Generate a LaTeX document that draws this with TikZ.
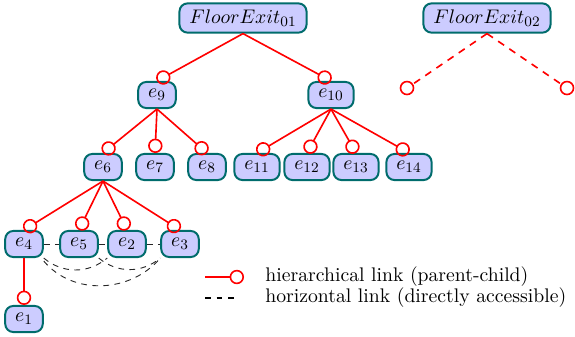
\documentclass[tikz,border=0pt]{standalone}
\usetikzlibrary{arrows.meta}
\begin{document}
\begin{tikzpicture}[x=0.5556pt,y=-0.5556pt,font=\fontsize{10.95}{13}\selectfont,
  nd/.style={draw=teal!85!black,fill=blue!20,rounded corners=4.5pt,line width=1.1pt,inner xsep=5.5pt,inner ysep=3.5pt,minimum height=14.5pt},
  hier/.style={red,line width=0.9pt,-{Circle[open,length=8pt,line width=0.9pt]}},
  hdash/.style={red,line width=0.9pt,dash pattern=on 4pt off 3.5pt},
  horiz/.style={black!85,line width=0.5pt,dash pattern=on 3.2pt off 3pt}]
\useasboundingbox (0,0) rectangle (575,336);
\node[nd] (f1) at (243,18) {$FloorExit_{01}$};
\node[nd] (f2) at (487,18) {$FloorExit_{02}$};
\node[nd] (e9) at (157,95) {$e_9$};
\node[nd] (e10) at (331,95) {$e_{10}$};
\node[nd] (e6) at (103,167) {$e_6$};
\node[nd] (e7) at (155,167) {$e_7$};
\node[nd] (e8) at (207,167) {$e_8$};
\node[nd] (e11) at (257,167) {$e_{11}$};
\node[nd] (e12) at (307,167) {$e_{12}$};
\node[nd] (e13) at (356,167) {$e_{13}$};
\node[nd] (e14) at (409,167) {$e_{14}$};
\node[nd] (e4) at (24,244) {$e_4$};
\node[nd] (e5) at (79,244) {$e_5$};
\node[nd] (e2) at (127,244) {$e_2$};
\node[nd] (e3) at (180,244) {$e_3$};
\node[nd] (e1) at (24,319) {$e_1$};
\coordinate (g1) at (413,84);
\coordinate (g2) at (561,84);
\coordinate (l1a) at (205,277);
\coordinate (l1b) at (244,277);
\coordinate (l2a) at (205,298);
\coordinate (l2b) at (234,298);
% hierarchical
\foreach \p/\c in {f1/e9,f1/e10,e9/e6,e9/e7,e9/e8,e10/e11,e10/e12,e10/e13,e10/e14,e6/e4,e6/e5,e6/e2,e6/e3,e4/e1}
  \draw[hier] (\p.south) -- (\c.north);
\draw[hdash] (f2.south) -- (g1);
\draw[hdash] (f2.south) -- (g2);
\draw[red,line width=0.9pt] (407,88) circle[radius=3.6pt];
\draw[red,line width=0.9pt] (567,88) circle[radius=3.6pt];
% horizontal
\draw[horiz] (e4) -- (e5);
\draw[horiz] (e5) -- (e2);
\draw[horiz] (e2) -- (e3);
\draw[horiz] (e4.south east) to[out=-40,in=-140] (e2.south west);
\draw[horiz] (e5.south east) to[out=-40,in=-140] (e3.south west);
\draw[horiz] (e4.south east) ++(0,3) to[out=-50,in=-130] (e3.south west);
% legend
\draw[hier] (l1a) -- (l1b);
\draw[black,line width=0.9pt,dash pattern=on 3.2pt off 3.2pt] (l2a) -- (l2b);
\node[anchor=west,inner sep=0pt] (t1) at (265,277) {hierarchical link (parent-child)};
\node[anchor=west,inner sep=0pt] (t2) at (265,298) {horizontal link (directly accessible)};
\end{tikzpicture}
\end{document}
